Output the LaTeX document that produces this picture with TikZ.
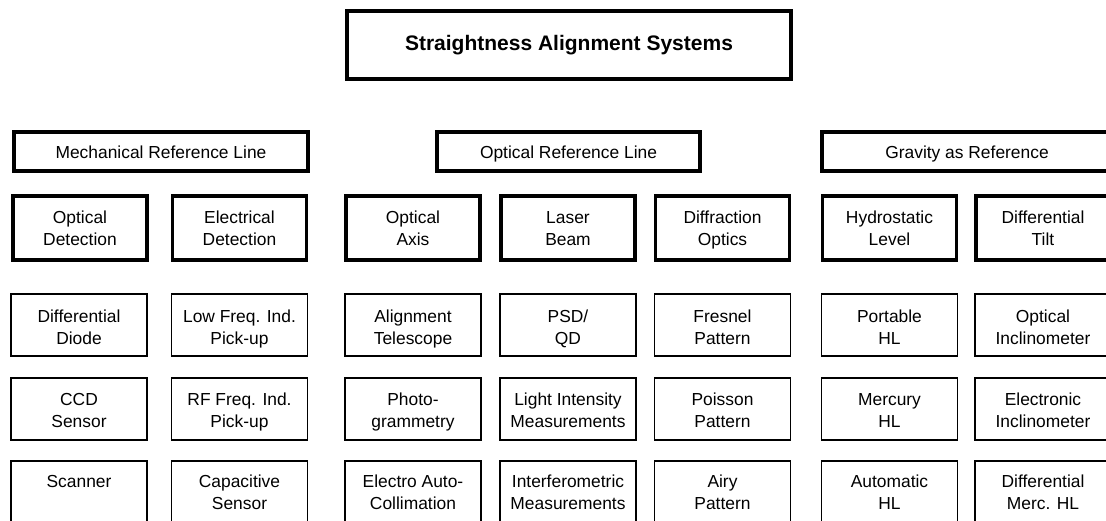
\documentclass[tikz,border=0pt]{standalone}
\usepackage{fontspec}
\setmainfont{Liberation Sans}
\newcommand\cell[5]{%
  \node[#4] (#1) at (#2) {};
  \node[txt] (#1t) at ([yshift=#3]#1.center) {#5};}
\newcommand\twol[2]{\strut #1\\\strut #2}
\begin{document}
\begin{tikzpicture}[x=1pt,y=-1pt,
  every node/.style={inner sep=0pt, outer sep=0pt},
  txt/.style={align=center, font=\fontsize{17.4}{21.8}\selectfont},
  titlebox/.style={draw, line width=4.5pt, minimum width=444pt, minimum height=68pt},
  headbox/.style={draw, line width=4pt, minimum height=39pt},
  groupbox/.style={draw, line width=3.6pt, minimum width=134pt, minimum height=64pt},
  itembox/.style={draw, line width=1.8pt, minimum width=136pt, minimum height=62pt}
]
\useasboundingbox (0,0) rectangle (1106,521);
\clip (0,0) rectangle (1106,521);

\node[titlebox] (title) at (569,45) {};
\node[font=\fontsize{21}{26}\selectfont\bfseries] (titlet) at (title.center) {\strut Straightness Alignment Systems};

\cell{mech}{161,151.5}{-2.5pt}{headbox, minimum width=294pt}{\strut Mechanical Reference Line}
\cell{opt}{568.5,151.5}{-2.5pt}{headbox, minimum width=263pt}{\strut Optical Reference Line}
\cell{grav}{967,151.5}{-2.5pt}{headbox, minimum width=290pt}{\strut Gravity as Reference}

% row 2
\cell{g1}{80,228}{-2pt}{groupbox}{\twol{Optical}{Detection}}
\cell{g2}{239.5,228}{-2pt}{groupbox}{\twol{Electrical}{Detection}}
\cell{g3}{413,228}{-2pt}{groupbox}{\twol{Optical}{Axis}}
\cell{g4}{568,228}{-2pt}{groupbox}{\twol{Laser}{Beam}}
\cell{g5}{722.5,228}{-2pt}{groupbox}{\twol{Diffraction}{Optics}}
\cell{g6}{889.5,228}{-2pt}{groupbox}{\twol{Hydrostatic}{Level}}
\cell{g7}{1043,228}{-2pt}{groupbox}{\twol{Differential}{Tilt}}

% row 3
\cell{a1}{79,325}{-4pt}{itembox}{\twol{Differential}{Diode}}
\cell{a2}{239.5,325}{-4pt}{itembox}{\twol{Low Freq. Ind.}{Pick-up}}
\cell{a3}{413,325}{-4pt}{itembox}{\twol{Alignment}{Telescope}}
\cell{a4}{568,325}{-4pt}{itembox}{\twol{PSD/}{QD}}
\cell{a5}{722.5,325}{-4pt}{itembox}{\twol{Fresnel}{Pattern}}
\cell{a6}{889.5,325}{-4pt}{itembox}{\twol{Portable}{HL}}
\cell{a7}{1043,325}{-4pt}{itembox}{\twol{Optical}{Inclinometer}}

% row 4
\cell{b1}{79,409}{-3pt}{itembox}{\twol{CCD}{Sensor}}
\cell{b2}{239.5,409}{-3pt}{itembox}{\twol{RF Freq. Ind.}{Pick-up}}
\cell{b3}{413,409}{-3pt}{itembox}{\twol{Photo-}{grammetry}}
\cell{b4}{568,409}{-3pt}{itembox}{\twol{Light Intensity}{Measurements}}
\cell{b5}{722.5,409}{-3pt}{itembox}{\twol{Poisson}{Pattern}}
\cell{b6}{889.5,409}{-3pt}{itembox}{\twol{Mercury}{HL}}
\cell{b7}{1043,409}{-3pt}{itembox}{\twol{Electronic}{Inclinometer}}

% row 5
\cell{c1}{79,492}{-2pt}{itembox}{\twol{Scanner}{}}
\cell{c2}{239.5,492}{-2pt}{itembox}{\twol{Capacitive}{Sensor}}
\cell{c3}{413,492}{-2pt}{itembox}{\twol{Electro Auto-}{Collimation}}
\cell{c4}{568,492}{-2pt}{itembox}{\twol{Interferometric}{Measurements}}
\cell{c5}{722.5,492}{-2pt}{itembox}{\twol{Airy}{Pattern}}
\cell{c6}{889.5,492}{-2pt}{itembox}{\twol{Automatic}{HL}}
\cell{c7}{1043,492}{-2pt}{itembox}{\twol{Differential}{Merc. HL}}
\end{tikzpicture}
\end{document}
